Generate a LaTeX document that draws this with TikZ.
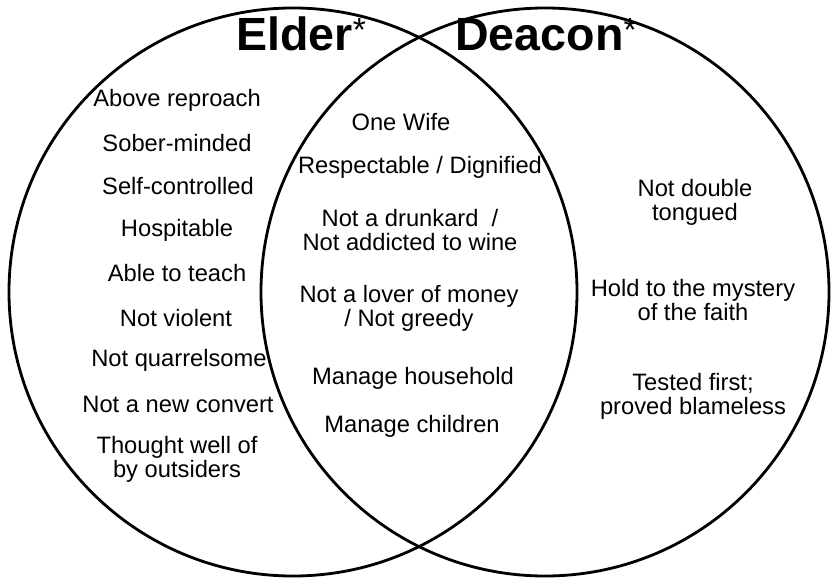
\documentclass[tikz,border=0pt]{standalone}
\usepackage{fontspec}
\setmainfont{Liberation Sans}
\usetikzlibrary{positioning}

\newcommand{\headstar}{\raisebox{0.2em}{\mdseries\fontsize{19}{19}\selectfont *}}

\begin{document}
\begin{tikzpicture}[x=0.2mm, y=0.2mm,
  ring/.style={draw, circle, line width=1.6pt, minimum size=113.6mm, inner sep=0pt},
  head/.style={font=\fontsize{26.5}{28}\selectfont\bfseries, inner sep=0pt, anchor=base west},
  item/.style={font=\fontsize{13.5}{13.6}\selectfont, align=center, inner sep=0pt}]
\useasboundingbox (0,0) rectangle (831,579);
% the two sets
\node[ring] (elderset) at (293,287) {};
\node[ring] (deaconset) at (545,287) {};
\node[head] (elder) at (236,528) {Elder\headstar};
\node[head] (deacon) at (455,528) {Deacon\headstar};
% elder only
\node[item] (reproach) at (177,479) {Above reproach};
\node[item] (sober) at (177,436) {Sober-minded};
\node[item] (selfctl) at (178,393) {Self-controlled};
\node[item] (hosp) at (177,349) {Hospitable};
\node[item] (teach) at (177,306) {Able to teach};
\node[item] (violent) at (176,261) {Not violent};
\node[item] (quarrel) at (179,219) {Not quarrelsome};
\node[item] (convert) at (178,175) {Not a new convert};
\node[item] (outsiders) at (177,120) {Thought well of\\by outsiders};
% both
\node[item] (wife) at (401,457) {One Wife};
\node[item] (respect) at (420,412) {Respectable / Dignified};
\node[item] (drunk) at (410,349) {Not a drunkard~~/\\Not addicted to wine};
\node[item] (money) at (409,271) {Not a lover of money\\/ Not greedy};
\node[item] (household) at (413,201) {Manage household};
\node[item] (children) at (412,153) {Manage children};
% deacon only
\node[item] (tongue) at (695,377) {Not double\\tongued};
\node[item] (faith) at (693,279) {Hold to the mystery\\of the faith};
\node[item] (tested) at (693,183) {Tested first;\\proved blameless};
\end{tikzpicture}
\end{document}
